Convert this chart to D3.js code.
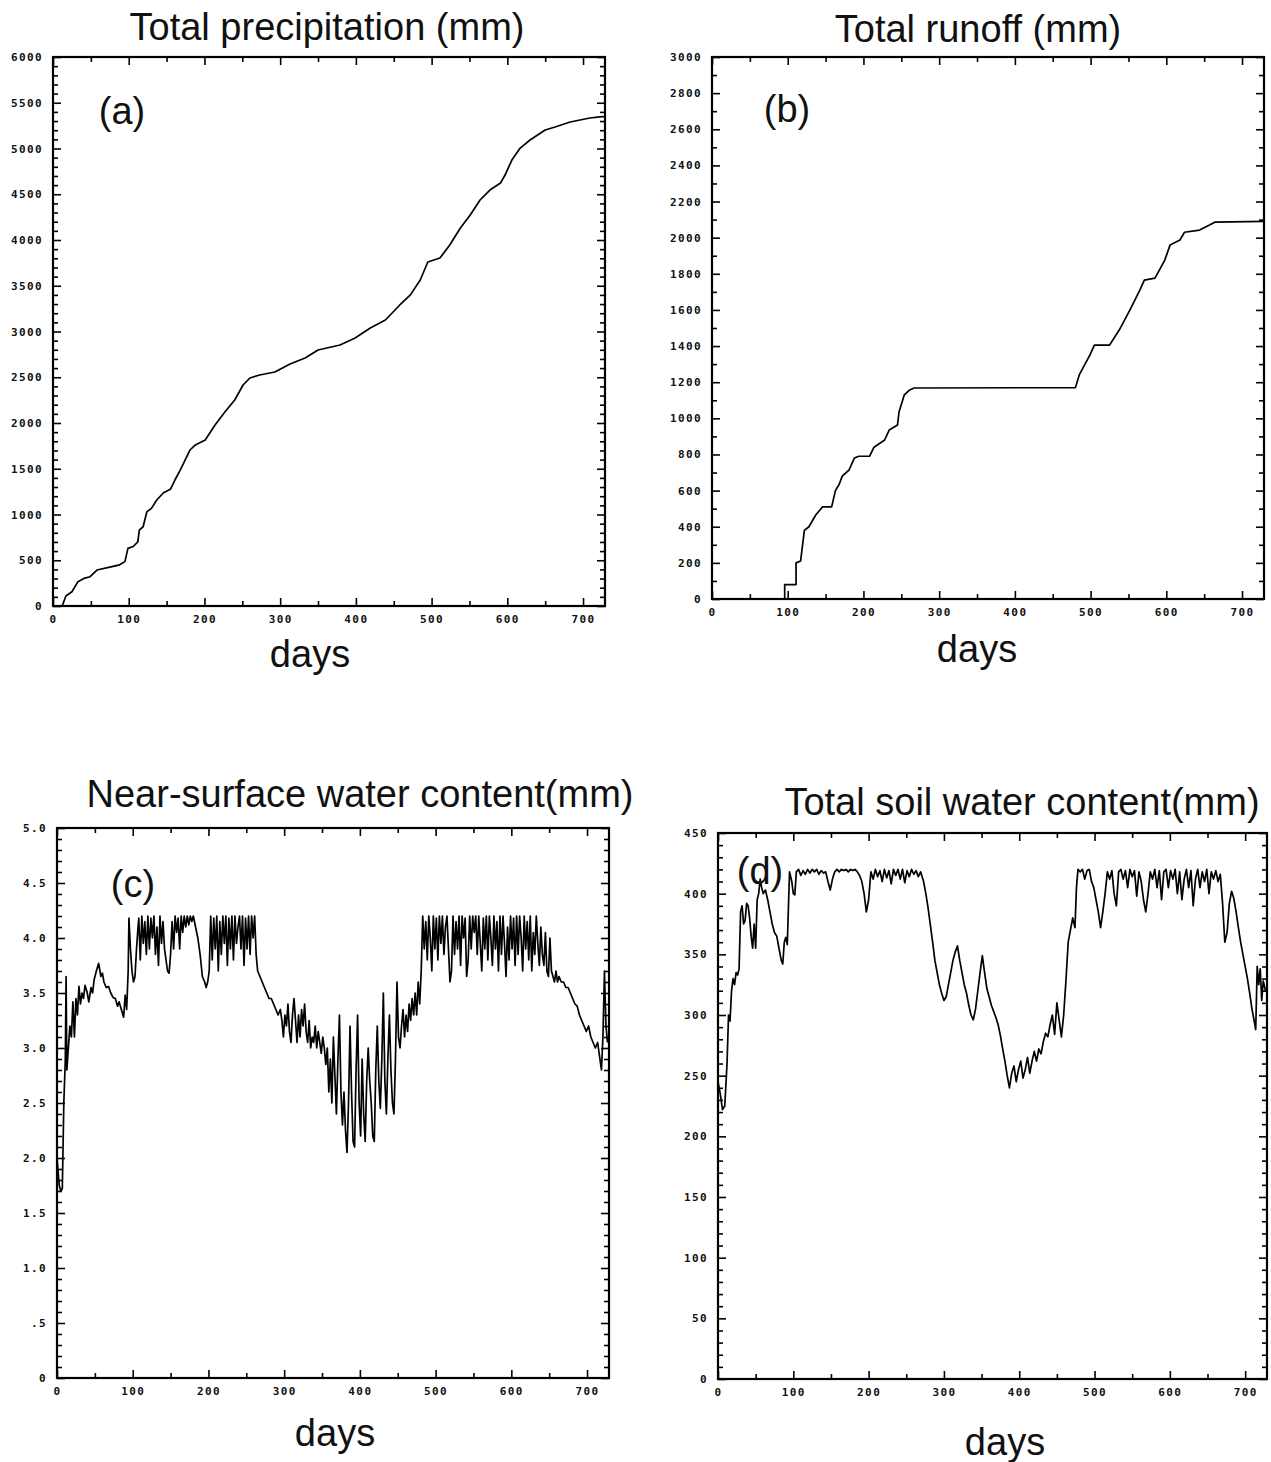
<!DOCTYPE html>
<html>
<head>
<meta charset="utf-8">
<script src="https://cdn.jsdelivr.net/npm/d3@7"></script>
<style>
body { margin: 0; background: #fff; }
.tick text { font-family: "DejaVu Sans Mono", monospace; font-weight: bold; font-size: 11px; letter-spacing: 1.4px; }
.big { font-family: "Liberation Sans", Arial, sans-serif; fill: #111; }
</style>
</head>
<body>
<svg id="chart" width="1271" height="1462"></svg>
<script>
/*global d3 */
var dayMajor = [0, 100, 200, 300, 400, 500, 600, 700];
var dayMinor = [50, 150, 250, 350, 450, 550, 650];

// [day, mm]
var precipSeries = [[0,0],[12,0],[13,20],[17,110],[25,156],[33,266],[42,305],[49,320],[58,393],[75,425],[88,450],[95,485],[99,630],[106,650],[112,700],[114,830],[119,866],[124,1030],[130,1067],[137,1158],[146,1238],[155,1275],[161,1377],[168,1486],[181,1705],[188,1760],[201,1814],[214,1978],[227,2120],[240,2251],[251,2415],[260,2492],[273,2525],[293,2557],[313,2645],[333,2710],[350,2798],[379,2852],[399,2929],[419,3038],[439,3126],[458,3290],[472,3400],[485,3563],[495,3760],[511,3803],[524,3945],[538,4131],[551,4273],[564,4437],[577,4546],[591,4623],[597,4710],[606,4874],[617,5005],[630,5093],[650,5202],[663,5235],[683,5290],[709,5333],[722,5345],[729,5350]];

var runoffSeries = [[0,0],[96,0],[96,80],[111,80],[111,200],[117,210],[122,380],[128,400],[137,465],[146,510],[158,510],[163,600],[168,635],[172,680],[181,714],[188,780],[194,790],[208,790],[214,840],[228,880],[234,935],[245,963],[247,1035],[254,1130],[261,1157],[267,1168],[480,1170],[485,1240],[499,1350],[505,1405],[525,1405],[538,1490],[552,1600],[565,1710],[571,1765],[585,1776],[598,1876],[605,1960],[618,1987],[624,2030],[644,2042],[657,2070],[664,2086],[729,2090]];

var nearSeries = [[0,2.0],[3,1.75],[5,1.7],[7,1.72],[9,2.5],[11,2.9],[12,3.65],[13,2.8],[15,3.0],[17,3.2],[19,3.1],[21,3.42],[23,3.1],[25,3.45],[27,3.3],[29,3.56],[31,3.4],[33,3.5],[35,3.45],[37,3.57],[40,3.5],[42,3.42],[45,3.55],[47,3.5],[49,3.62],[52,3.7],[55,3.77],[58,3.65],[60,3.68],[62,3.6],[65,3.55],[68,3.56],[71,3.5],[74,3.46],[77,3.45],[80,3.38],[82,3.42],[85,3.35],[88,3.28],[90,3.48],[92,3.35],[94,3.7],
    [95,4.18],[97,3.9],[99,3.7],[101,3.6],[103,3.65],[105,3.9],[107,4.1],[108,4.18],[110,3.8],[112,4.2],[114,3.95],[116,4.15],[118,3.85],[120,4.2],[122,3.9],[124,4.18],[126,4.0],[128,4.2],[130,3.85],[132,4.1],[134,3.75],[136,4.2],[138,3.95],[140,4.15],[142,3.9],[144,3.8],[146,3.7],[148,3.68],[150,3.85],[152,4.15],[154,3.9],[156,4.2],[158,4.05],[160,4.18],[162,3.9],[164,4.2],[166,4.05],[168,4.2],[170,4.1],[172,4.2],[174,4.12],[176,4.2],[178,4.15],[180,4.2],[183,4.1],[186,4.0],[189,3.85],[192,3.65],[195,3.6],[197,3.55],[199,3.6],[201,3.7],[203,4.2],[205,3.8],[207,4.18],[209,3.9],[211,4.2],[213,3.7],[215,4.15],[217,3.85],[219,4.2],[221,3.95],[223,4.2],[225,3.75],[227,4.18],[229,3.9],[231,4.2],[233,3.8],[235,4.2],[237,3.95],[239,4.1],[241,4.2],[243,3.9],[245,4.2],[247,3.75],[249,4.18],[251,3.9],[253,4.2],[255,3.85],[257,4.2],[259,4.0],[261,4.2],[263,3.85],
    [265,3.7],[268,3.65],[271,3.6],[274,3.55],[277,3.5],[280,3.45],[283,3.45],[286,3.4],[289,3.35],[292,3.3],[295,3.35],[297,3.25],[299,3.1],[301,3.3],[303,3.2],[305,3.4],[307,3.15],[309,3.05],[311,3.3],[313,3.45],[315,3.25],[317,3.05],[319,3.3],[321,3.1],[323,3.35],[325,3.2],[327,3.4],[329,3.15],[331,3.05],[333,3.25],[335,3.0],[337,3.1],[339,3.05],[341,3.2],[343,3.0],[345,3.15],[347,3.05],[349,2.95],[351,3.1],[353,3.0],[355,2.85],[357,3.0],[359,2.6],[361,2.9],[363,2.5],[365,3.1],[367,2.75],[369,2.4],[371,2.9],[373,3.3],[375,2.6],[377,2.3],[379,2.6],[381,2.25],[383,2.05],[385,2.5],[387,3.2],[389,2.6],[391,2.15],[393,2.1],[395,2.8],[397,3.3],[399,2.5],[401,2.2],[403,2.9],[405,2.4],[407,2.15],[409,2.7],[411,3.0],[413,2.7],[415,2.5],[417,2.2],[419,2.15],[421,2.8],[423,3.2],[425,2.7],[427,2.45],[429,2.9],[431,3.5],[433,2.7],[435,2.4],[437,2.9],[439,3.3],[441,2.8],[443,2.5],[445,2.4],[447,2.9],[449,3.6],[451,3.1],[453,3.0],[455,3.2],[457,3.35],[459,3.1],[461,3.3],[463,3.15],[465,3.4],[467,3.25],[469,3.45],[471,3.3],[473,3.5],[475,3.3],[477,3.6],[479,3.4],[481,3.7],
    [483,4.2],[485,3.9],[487,4.15],[489,3.8],[491,4.2],[493,4.0],[495,3.7],[497,4.2],[499,3.9],[501,4.18],[503,3.8],[505,4.2],[507,3.95],[509,4.2],[511,3.85],[513,4.1],[515,4.2],[517,3.9],[519,3.6],[521,3.7],[523,4.2],[525,3.85],[527,4.15],[529,3.9],[531,4.2],[533,3.75],[535,4.2],[537,4.0],[539,4.18],[541,3.65],[543,3.8],[545,4.2],[547,3.9],[549,4.2],[551,4.05],[553,4.2],[555,3.85],[557,4.2],[559,3.95],[561,3.7],[563,4.18],[565,3.9],[567,4.2],[569,3.8],[571,4.2],[573,4.0],[575,3.75],[577,4.2],[579,3.9],[581,4.15],[583,3.7],[585,4.2],[587,3.85],[589,4.2],[591,3.95],[593,3.65],[595,4.1],[597,3.8],[599,4.2],[601,3.9],[603,4.18],[605,3.75],[607,4.2],[609,3.85],[611,4.2],[613,4.0],[615,3.7],[617,4.2],[619,3.9],[621,4.15],[623,3.8],[625,4.2],[627,3.7],[629,4.05],[631,3.85],[633,4.2],[635,3.95],[637,3.75],[639,4.1],[641,3.85],[643,3.75],[645,4.05],[647,3.7],[649,3.65],[651,4.0],[653,3.7],[655,3.65],[657,3.6],[659,3.7],[661,3.6],[663,3.65],
    [666,3.6],[669,3.6],[672,3.55],[675,3.55],[678,3.5],[681,3.45],[684,3.4],[687,3.38],[690,3.3],[693,3.25],[696,3.2],[699,3.15],[702,3.2],[705,3.1],[708,3.05],[711,3.0],[714,3.05],[717,2.9],[719,2.8],[721,3.1],[723,3.7],[725,3.2],[727,3.05]];

var soilSeries = [[0,245],[3,235],[6,222],[9,225],[12,260],[14,300],[16,295],[18,320],[20,330],[22,325],[24,335],[26,333],[28,338],[30,385],[32,390],[34,375],[36,378],[38,392],[40,390],[42,380],[44,365],[46,355],[48,375],[50,355],[52,395],[54,400],[56,412],[58,405],[60,400],[63,403],[66,395],[69,385],[72,375],[75,368],[78,365],[81,355],[84,345],[86,342],[88,360],[90,364],[92,358],
    [95,418],[98,410],[100,400],[102,399],[104,418],[107,420],[110,415],[113,419],[116,416],[119,420],[122,417],[125,420],[128,418],[131,420],[134,416],[137,419],[140,417],[143,418],[146,410],[149,403],[152,412],[155,418],[158,420],[161,418],[164,420],[167,419],[170,420],[173,418],[176,420],[179,419],[182,420],[185,418],[188,415],[191,410],[194,400],[197,385],[200,395],[203,418],[206,412],[209,420],[212,414],[215,419],[218,410],[221,420],[224,413],[227,419],[230,408],[233,420],[236,415],[239,420],[242,412],[245,420],[248,409],[251,419],[254,414],[257,420],[260,416],[263,419],[266,414],[269,418],
    [273,410],[276,400],[279,388],[282,374],[285,360],[288,345],[291,335],[294,325],[297,318],[300,312],[303,315],[306,325],[309,335],[312,345],[315,352],[318,357],[321,345],[324,335],[327,325],[330,318],[333,308],[336,300],[339,296],[342,305],[345,320],[348,335],[351,349],[354,335],[357,322],[360,315],[363,308],[366,303],[369,298],[372,292],[375,283],[378,272],[381,262],[384,250],[387,240],[390,252],[393,258],[396,245],[399,255],[402,262],[405,248],[408,255],[411,265],[414,252],[417,262],[420,270],[423,262],[426,272],[429,268],[432,278],[435,285],[438,282],[441,292],[444,300],[447,284],[450,310],[453,296],[456,282],[459,300],[462,328],[465,360],[468,370],[471,380],[474,372],[476,405],[478,420],
    [481,418],[484,420],[487,412],[490,419],[493,420],[496,410],[499,405],[502,395],[505,385],[508,372],[511,385],[514,400],[517,418],[520,412],[523,419],[526,400],[529,390],[532,418],[535,420],[538,412],[541,419],[544,405],[547,420],[550,414],[553,419],[556,398],[559,418],[562,410],[565,395],[568,385],[571,400],[574,418],[577,412],[580,420],[583,405],[586,419],[589,395],[592,418],[595,420],[598,405],[601,419],[604,412],[607,420],[610,400],[613,418],[616,395],[619,412],[622,420],[625,405],[628,419],[631,390],[634,412],[637,420],[640,405],[643,418],[646,410],[649,420],[652,400],[655,418],[658,412],[661,419],[664,410],[667,416],
    [670,392],[673,360],[676,368],[679,392],[682,402],[685,396],[688,385],[691,372],[694,360],[697,350],[700,340],[703,330],[706,318],[709,305],[712,295],[714,288],[716,340],[718,325],[720,338],[722,312],[724,328],[727,320]];

var svg = d3.select("#chart");

function drawPanel(p) {
    var x = d3.scaleLinear().domain([0, 729]).range([p.left, p.right]);
    var y = d3.scaleLinear().domain([0, p.ymax]).range([p.bottom, p.top]);
    var g = svg.append("g");

    function tickAxis(axis, vals, size, pos, fmt, pad) {
	var a = axis.tickValues(vals).tickSize(size).tickSizeOuter(0).tickPadding(pad || 3);
	a.tickFormat(fmt || "");
	var ag = g.append("g").attr("transform", pos).call(a);
	ag.select(".domain").remove();
	ag.selectAll("line").attr("stroke", "#000").attr("stroke-width", 1.6);
	ag.selectAll("text").attr("fill", "#111");
	return ag;
    }
    // bottom + top
    tickAxis(d3.axisBottom(x), dayMajor, -8, "translate(0," + p.bottom + ")", function(d){ return d; }, 9);
    tickAxis(d3.axisBottom(x), dayMinor, -5, "translate(0," + p.bottom + ")");
    tickAxis(d3.axisTop(x), dayMajor, -8, "translate(0," + p.top + ")");
    tickAxis(d3.axisTop(x), dayMinor, -5, "translate(0," + p.top + ")");
    // left + right
    tickAxis(d3.axisLeft(y), p.yMajor, -8, "translate(" + p.left + ",0)", p.yFormat, 10);
    tickAxis(d3.axisLeft(y), p.yMinor, -5, "translate(" + p.left + ",0)");
    tickAxis(d3.axisRight(y), p.yMajor, -8, "translate(" + p.right + ",0)");
    tickAxis(d3.axisRight(y), p.yMinor, -5, "translate(" + p.right + ",0)");

    g.append("rect").attr("x", p.left).attr("y", p.top)
	.attr("width", p.right - p.left).attr("height", p.bottom - p.top)
	.attr("fill", "none").attr("stroke", "#000").attr("stroke-width", 2.2);

    g.append("path").datum(p.series)
	.attr("d", d3.line().x(function(d){ return x(d[0]); }).y(function(d){ return y(d[1]); }))
	.attr("fill", "none").attr("stroke", "#000").attr("stroke-width", 1.7)
	.attr("stroke-linejoin", "round");

    g.append("text").attr("class", "big").attr("x", p.titleX).attr("y", p.titleY)
	.attr("text-anchor", "middle").attr("font-size", 38).text(p.title);
    g.append("text").attr("class", "big").attr("x", p.daysX).attr("y", p.daysY)
	.attr("text-anchor", "middle").attr("font-size", 38).text("days");
    g.append("text").attr("class", "big").attr("x", p.tagX).attr("y", p.tagY)
	.attr("text-anchor", "middle").attr("font-size", 38).text(p.tag);
}

function range(a, b, s) { return d3.range(a, b + s / 2, s); }

drawPanel({
    left: 53, right: 605, top: 57, bottom: 606, ymax: 6000,
    yMajor: range(0, 6000, 500), yMinor: range(100, 5900, 100).filter(function(v){ return v % 500 !== 0; }),
    yFormat: function(d){ return d; },
    series: precipSeries,
    title: "Total precipitation (mm)", titleX: 327, titleY: 40,
    daysX: 310, daysY: 667, tag: "(a)", tagX: 122, tagY: 124
});
drawPanel({
    left: 712, right: 1264, top: 57, bottom: 599, ymax: 3000,
    yMajor: range(0, 3000, 200), yMinor: range(100, 2900, 200),
    yFormat: function(d){ return d; },
    series: runoffSeries,
    title: "Total runoff (mm)", titleX: 978, titleY: 42,
    daysX: 977, daysY: 662, tag: "(b)", tagX: 787, tagY: 122
});
drawPanel({
    left: 57, right: 609, top: 828, bottom: 1378, ymax: 5,
    yMajor: range(0, 5, 0.5), yMinor: range(0.1, 4.9, 0.1).filter(function(v){ return Math.abs(v * 2 - Math.round(v * 2)) > 0.01; }),
    yFormat: function(d){ return d === 0 ? "0" : (d < 1 ? ".5" : d.toFixed(1)); },
    series: nearSeries,
    title: "Near-surface water content(mm)", titleX: 360, titleY: 807,
    daysX: 335, daysY: 1446, tag: "(c)", tagX: 133, tagY: 897
});
drawPanel({
    left: 718, right: 1267, top: 833, bottom: 1379, ymax: 450,
    yMajor: range(0, 450, 50), yMinor: range(10, 440, 10).filter(function(v){ return v % 50 !== 0; }),
    yFormat: function(d){ return d; },
    series: soilSeries,
    title: "Total soil water content(mm)", titleX: 1022, titleY: 815,
    daysX: 1005, daysY: 1455, tag: "(d)", tagX: 760, tagY: 884
});
</script>
</body>
</html>
